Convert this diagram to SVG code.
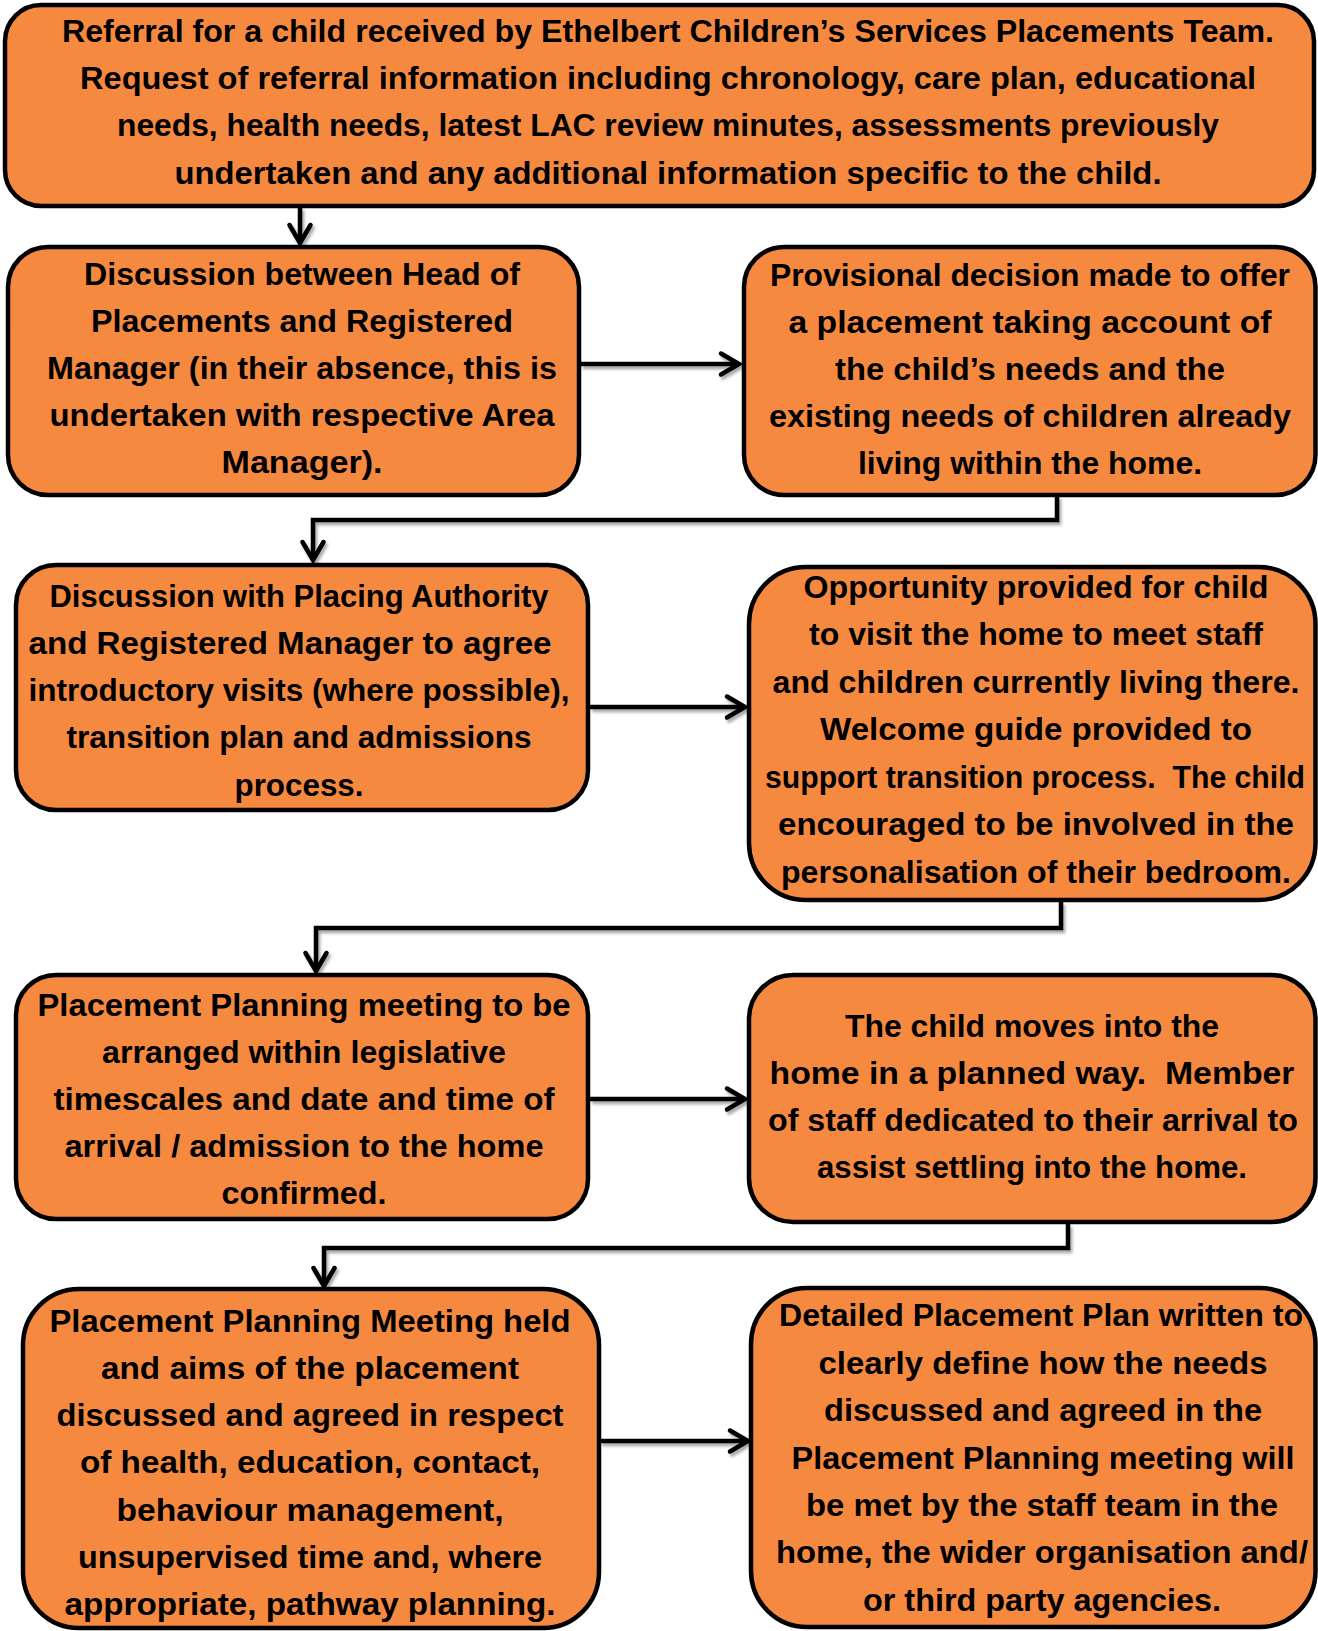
<svg xmlns="http://www.w3.org/2000/svg" width="1318" height="1631" viewBox="0 0 1318 1631">
<style>
.box{fill:#F68940;stroke:#000;stroke-width:4.5}
.t{font-family:"Liberation Sans",Arial,sans-serif;font-weight:bold;font-size:32px;fill:#000;text-anchor:middle}
.c{fill:none;stroke:#000;stroke-width:4.5;stroke-linejoin:miter}
</style>
<defs>
<marker id="ah" markerUnits="userSpaceOnUse" markerWidth="30" markerHeight="30" viewBox="0 0 30 30" refX="21" refY="12" orient="auto" style="overflow:visible">
<path d="M3,1.5 L21,12 L3,22.5" fill="none" stroke="#000" stroke-width="4.5" stroke-linecap="round" stroke-linejoin="miter"/>
</marker>
<filter id="sh" filterUnits="userSpaceOnUse" x="0" y="0" width="1318" height="1631">
<feDropShadow dx="2" dy="3" stdDeviation="1.5" flood-color="#000" flood-opacity="0.35"/>
</filter>
</defs>
<rect width="1318" height="1631" fill="#fff"/>

<g id="connectors" filter="url(#sh)">
<path class="c" d="M300,207 V243" marker-end="url(#ah)"/>
<path class="c" d="M581,364 H739" marker-end="url(#ah)"/>
<path class="c" d="M1057,496 V520 H313 V560" marker-end="url(#ah)"/>
<path class="c" d="M590,707 H745" marker-end="url(#ah)"/>
<path class="c" d="M1061,902 V928 H316 V971" marker-end="url(#ah)"/>
<path class="c" d="M590,1099 H745" marker-end="url(#ah)"/>
<path class="c" d="M1068,1224 V1248 H324 V1286" marker-end="url(#ah)"/>
<path class="c" d="M600,1441 H748" marker-end="url(#ah)"/>
</g>

<g id="n1">
<rect class="box" x="5" y="5" width="1309" height="201" rx="36"/>
<text class="t" x="668" y="42" textLength="1212" lengthAdjust="spacingAndGlyphs">Referral for a child received by Ethelbert Children’s Services Placements Team.</text>
<text class="t" x="668" y="89" textLength="1176" lengthAdjust="spacingAndGlyphs">Request of referral information including chronology, care plan, educational</text>
<text class="t" x="668" y="136" textLength="1102" lengthAdjust="spacingAndGlyphs">needs, health needs, latest LAC review minutes, assessments previously</text>
<text class="t" x="668" y="184" textLength="987" lengthAdjust="spacingAndGlyphs">undertaken and any additional information specific to the child.</text>
</g>

<g id="n2">
<rect class="box" x="8" y="247" width="571" height="248" rx="40"/>
<text class="t" x="302" y="285" textLength="436" lengthAdjust="spacingAndGlyphs">Discussion between Head of</text>
<text class="t" x="302" y="332" textLength="422" lengthAdjust="spacingAndGlyphs">Placements and Registered</text>
<text class="t" x="302" y="379" textLength="510" lengthAdjust="spacingAndGlyphs">Manager (in their absence, this is</text>
<text class="t" x="302" y="426" textLength="505" lengthAdjust="spacingAndGlyphs">undertaken with respective Area</text>
<text class="t" x="302" y="473" textLength="161" lengthAdjust="spacingAndGlyphs">Manager).</text>
</g>

<g id="n3">
<rect class="box" x="744" y="247" width="571.5" height="248" rx="40"/>
<text class="t" x="1030" y="286" textLength="520" lengthAdjust="spacingAndGlyphs">Provisional decision made to offer</text>
<text class="t" x="1030" y="333" textLength="483" lengthAdjust="spacingAndGlyphs">a placement taking account of</text>
<text class="t" x="1030" y="380" textLength="390" lengthAdjust="spacingAndGlyphs">the child’s needs and the</text>
<text class="t" x="1030" y="427" textLength="522" lengthAdjust="spacingAndGlyphs">existing needs of children already</text>
<text class="t" x="1030" y="474" textLength="344" lengthAdjust="spacingAndGlyphs">living within the home.</text>
</g>

<g id="n4">
<rect class="box" x="16" y="565" width="572" height="245" rx="40"/>
<text class="t" x="299" y="607" textLength="499" lengthAdjust="spacingAndGlyphs">Discussion with Placing Authority</text>
<text class="t" x="290" y="654" textLength="523" lengthAdjust="spacingAndGlyphs">and Registered Manager to agree</text>
<text class="t" x="299" y="701" textLength="541" lengthAdjust="spacingAndGlyphs">introductory visits (where possible),</text>
<text class="t" x="299" y="748" textLength="465" lengthAdjust="spacingAndGlyphs">transition plan and admissions</text>
<text class="t" x="299" y="796" textLength="129" lengthAdjust="spacingAndGlyphs">process.</text>
</g>

<g id="n5">
<rect class="box" x="749" y="567" width="566.5" height="333" rx="57"/>
<text class="t" x="1036" y="598" textLength="465" lengthAdjust="spacingAndGlyphs">Opportunity provided for child</text>
<text class="t" x="1036" y="645" textLength="454" lengthAdjust="spacingAndGlyphs">to visit the home to meet staff</text>
<text class="t" x="1036" y="693" textLength="527" lengthAdjust="spacingAndGlyphs">and children currently living there.</text>
<text class="t" x="1036" y="740" textLength="432" lengthAdjust="spacingAndGlyphs">Welcome guide provided to</text>
<text class="t" x="1035" y="788" style="font-size:31px" textLength="540" lengthAdjust="spacingAndGlyphs">support transition process.&#160; The child</text>
<text class="t" x="1036" y="835" textLength="516" lengthAdjust="spacingAndGlyphs">encouraged to be involved in the</text>
<text class="t" x="1036" y="883" textLength="510" lengthAdjust="spacingAndGlyphs">personalisation of their bedroom.</text>
</g>

<g id="n6">
<rect class="box" x="16" y="975" width="572" height="244" rx="40"/>
<text class="t" x="304" y="1016" textLength="533" lengthAdjust="spacingAndGlyphs">Placement Planning meeting to be</text>
<text class="t" x="304" y="1063" textLength="404" lengthAdjust="spacingAndGlyphs">arranged within legislative</text>
<text class="t" x="304" y="1110" textLength="501" lengthAdjust="spacingAndGlyphs">timescales and date and time of</text>
<text class="t" x="304" y="1157" textLength="479" lengthAdjust="spacingAndGlyphs">arrival / admission to the home</text>
<text class="t" x="304" y="1204" textLength="165" lengthAdjust="spacingAndGlyphs">confirmed.</text>
</g>

<g id="n7">
<rect class="box" x="749" y="975" width="566.5" height="247" rx="44"/>
<text class="t" x="1032" y="1037" textLength="374" lengthAdjust="spacingAndGlyphs">The child moves into the</text>
<text class="t" x="1032" y="1084" textLength="525" lengthAdjust="spacingAndGlyphs">home in a planned way.&#160; Member</text>
<text class="t" x="1033" y="1131" textLength="530" lengthAdjust="spacingAndGlyphs">of staff dedicated to their arrival to</text>
<text class="t" x="1032" y="1178" textLength="430" lengthAdjust="spacingAndGlyphs">assist settling into the home.</text>
</g>

<g id="n8">
<rect class="box" x="23" y="1289" width="576" height="339" rx="56"/>
<text class="t" x="310" y="1332" textLength="521" lengthAdjust="spacingAndGlyphs">Placement Planning Meeting held</text>
<text class="t" x="310" y="1379" textLength="418" lengthAdjust="spacingAndGlyphs">and aims of the placement</text>
<text class="t" x="310" y="1426" textLength="507" lengthAdjust="spacingAndGlyphs">discussed and agreed in respect</text>
<text class="t" x="310" y="1473" textLength="460" lengthAdjust="spacingAndGlyphs">of health, education, contact,</text>
<text class="t" x="310" y="1521" textLength="387" lengthAdjust="spacingAndGlyphs">behaviour management,</text>
<text class="t" x="310" y="1568" textLength="464" lengthAdjust="spacingAndGlyphs">unsupervised time and, where</text>
<text class="t" x="310" y="1615" textLength="491" lengthAdjust="spacingAndGlyphs">appropriate, pathway planning.</text>
</g>

<g id="n9">
<rect class="box" x="751" y="1288" width="564.5" height="339" rx="56"/>
<text class="t" x="1041" y="1326" textLength="524" lengthAdjust="spacingAndGlyphs">Detailed Placement Plan written to</text>
<text class="t" x="1043" y="1374" textLength="449" lengthAdjust="spacingAndGlyphs">clearly define how the needs</text>
<text class="t" x="1043" y="1421" textLength="438" lengthAdjust="spacingAndGlyphs">discussed and agreed in the</text>
<text class="t" x="1043" y="1469" textLength="503" lengthAdjust="spacingAndGlyphs">Placement Planning meeting will</text>
<text class="t" x="1042" y="1516" textLength="472" lengthAdjust="spacingAndGlyphs">be met by the staff team in the</text>
<text class="t" x="1042" y="1563" textLength="532" lengthAdjust="spacingAndGlyphs">home, the wider organisation and/</text>
<text class="t" x="1042" y="1611" textLength="358" lengthAdjust="spacingAndGlyphs">or third party agencies.</text>
</g>
</svg>
